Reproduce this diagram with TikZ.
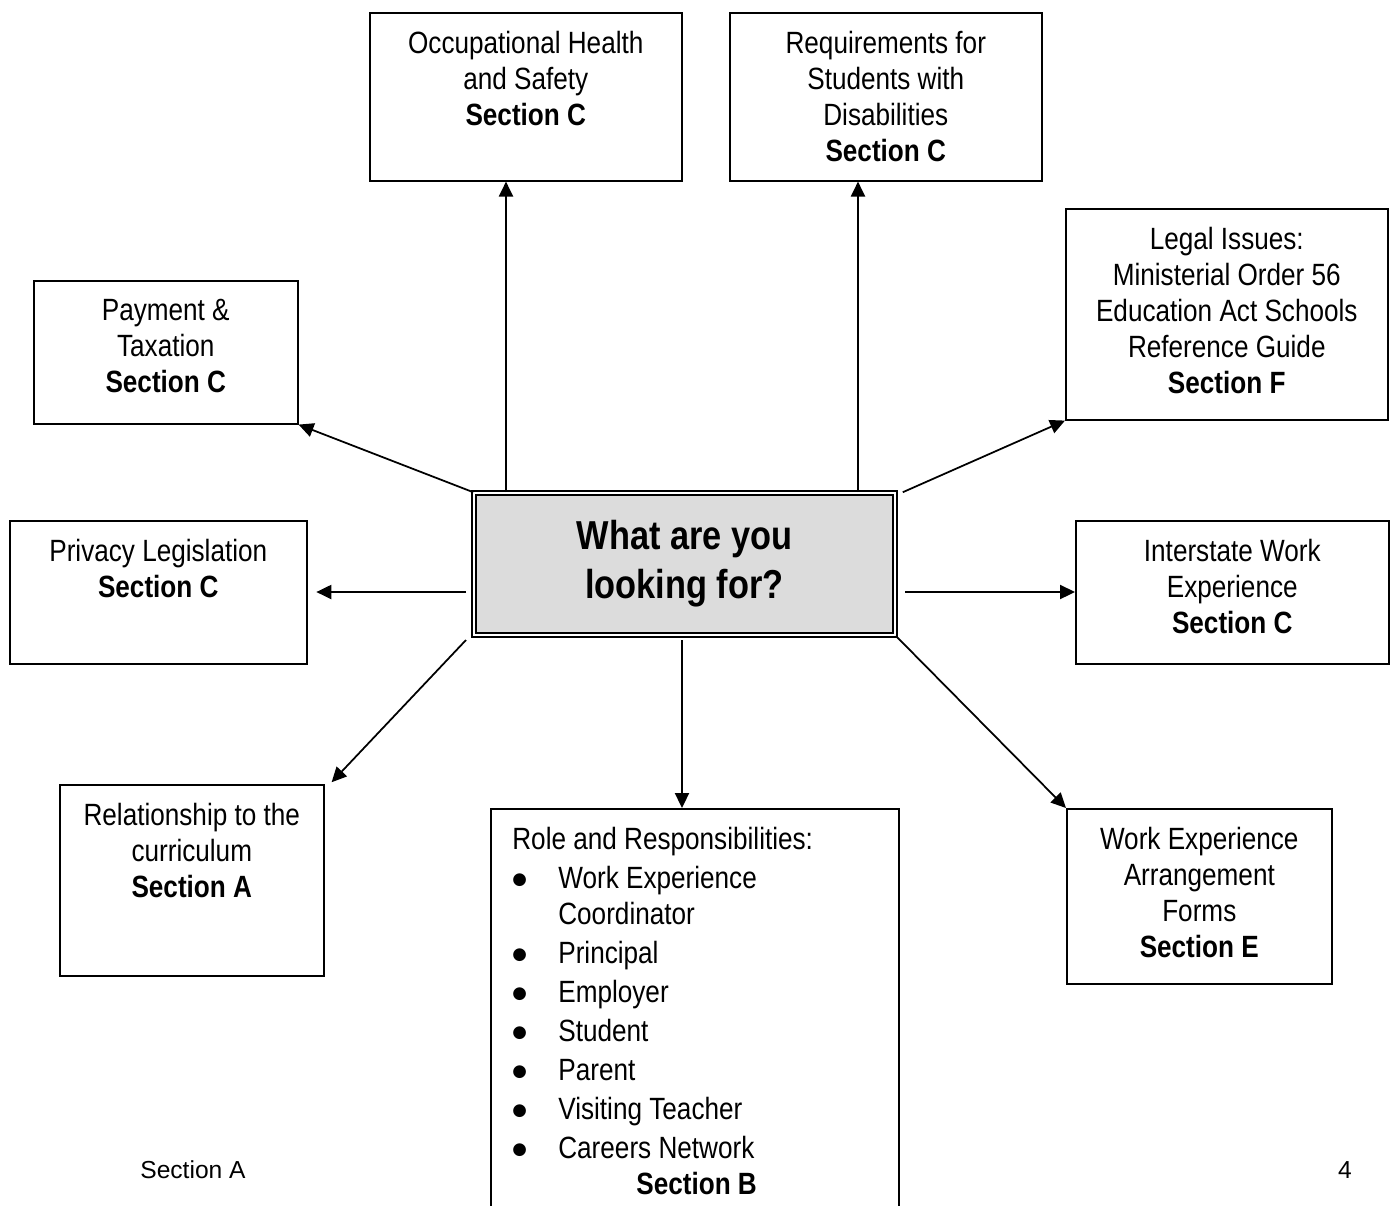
\documentclass[tikz,border=0pt]{standalone}
\usepackage{fontspec}
\setmainfont{Liberation Sans}[FakeStretch=0.85]
\newfontfamily\footfont{Liberation Sans}
\newfontfamily\symfont{DejaVu Sans}
\usetikzlibrary{arrows.meta,positioning}
\definecolor{hubgray}{HTML}{DCDCDC}
\newcommand{\bigbullet}{\raisebox{2.3pt}{\symfont\fontsize{9.5}{11}\selectfont ●}}
\tikzset{
  box/.style={draw, line width=0.9pt, anchor=north west, inner sep=0pt},
  boxsize/.style 2 args={minimum width=#1*0.02cm, minimum height=#2*0.02cm},
  boxtext/.style={align=center, inner sep=0pt, font=\fontsize{17.5}{20.5}\selectfont},
  link/.style={line width=1pt, -{Triangle[length=8.5pt,width=8pt]}},
}
\begin{document}
\begin{tikzpicture}[x=0.02cm,y=-0.02cm]
  % page, in pixels of the scan
  \useasboundingbox (0,0) rectangle (1394,1205);
  % centre box
  \node[draw, line width=1.2pt, double, double distance=1.2pt, fill=hubgray,
        minimum width=8.41cm, minimum height=2.83cm, align=center,
        font=\bfseries\fontsize{23}{27.8}\selectfont] (hub) at (684.5,564)
        {What are you\\looking for?};
  % outer boxes
  \node[box, boxsize={312}{168}] (ohs) at (369,12) {};
  \node[box, boxsize={312}{168}] (req) at (729,12) {};
  \node[box, boxsize={322}{211}] (legal) at (1065,208) {};
  \node[box, boxsize={264}{143}] (pay) at (33,280) {};
  \node[box, boxsize={297}{143}] (priv) at (9,520) {};
  \node[box, boxsize={313}{143}] (inter) at (1075,520) {};
  \node[box, boxsize={264}{191}] (rel) at (59,784) {};
  \node[box, boxsize={265}{175}] (work) at (1066,808) {};
  \node[box, boxsize={408}{420}] (role) at (490,808) {};
  % box texts
  \node[boxtext, below=0.37cm of ohs.north] (ohstext)
    {Occupational Health\\and Safety\\\textbf{Section C}};
  \node[boxtext, below=0.37cm of req.north] (reqtext)
    {Requirements for\\Students with\\Disabilities\\\textbf{Section C}};
  \node[boxtext, below=0.37cm of legal.north] (legaltext)
    {Legal Issues:\\Ministerial Order 56\\Education Act Schools\\Reference Guide\\\textbf{Section F}};
  \node[boxtext, below=0.37cm of pay.north] (paytext)
    {Payment \&\\Taxation\\\textbf{Section C}};
  \node[boxtext, below=0.37cm of priv.north] (privtext)
    {Privacy Legislation\\\textbf{Section C}};
  \node[boxtext, below=0.37cm of inter.north] (intertext)
    {Interstate Work\\Experience\\\textbf{Section C}};
  \node[boxtext, below=0.37cm of rel.north] (reltext)
    {Relationship to the\\curriculum\\\textbf{Section A}};
  \node[boxtext, below=0.37cm of work.north] (worktext)
    {Work Experience\\Arrangement\\Forms\\\textbf{Section E}};
  \node[boxtext, anchor=north west] (roletext) at (512,824) {%
    \begin{tabular}{@{}p{0.92cm}@{}l@{}}
      \multicolumn{2}{@{}l@{}}{Role and Responsibilities:}\\[1.7pt]
      \bigbullet & Work Experience\\
                 & Coordinator\\[1.7pt]
      \bigbullet & Principal\\[1.7pt]
      \bigbullet & Employer\\[1.7pt]
      \bigbullet & Student\\[1.7pt]
      \bigbullet & Parent\\[1.7pt]
      \bigbullet & Visiting Teacher\\[1.7pt]
      \bigbullet & Careers Network\\
      \multicolumn{2}{@{}l@{}}{\hspace{2.48cm}\textbf{Section B}}
    \end{tabular}};
  % arrows out of the centre box
  \coordinate (up1) at (506,492);
  \coordinate (up2) at (858,492);
  \coordinate (left1) at (466,592);
  \coordinate (right1) at (905,592);
  \coordinate (left2) at (466,640);
  \coordinate (down1) at (682,640);
  \draw[link] (up1) -- (up1 |- ohs.south);
  \draw[link] (up2) -- (up2 |- req.south);
  \draw[link] (hub.north west) -- (pay.south east);
  \draw[link] ([xshift=4pt]hub.north east) -- (legal.south west);
  \draw[link, shorten >=5pt] (left1) -- (left1 -| priv.east);
  \draw[link] (right1) -- (right1 -| inter.west);
  \draw[link] (left2) -- ([shift={(4pt,1pt)}]rel.north east);
  \draw[link] (down1) -- (down1 |- role.north);
  \draw[link] (hub.south east) -- (work.north west);
  % footer
  \node[font=\footfont\fontsize{14}{16}\selectfont] (foot) at (193,1170) {Section A};
  \node[font=\footfont\fontsize{14}{16}\selectfont] (page) at (1345,1170) {4};
\end{tikzpicture}
\end{document}
